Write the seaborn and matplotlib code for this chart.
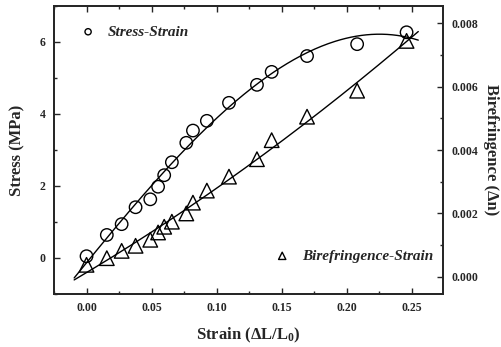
import numpy as np
import pandas as pd
import matplotlib
matplotlib.use('Agg')
import matplotlib.pyplot as plt
from matplotlib.ticker import MultipleLocator
import seaborn as sns

# strain values shared by both series
strain = [0.000, 0.0156, 0.027, 0.0377, 0.049, 0.055, 0.0597, 0.0656, 0.0767,
          0.0818, 0.0925, 0.1095, 0.131, 0.1423, 0.1695, 0.208, 0.246]
stress = [0.05, 0.64, 0.94, 1.41, 1.63, 1.98, 2.30, 2.66, 3.20,
          3.54, 3.81, 4.31, 4.81, 5.17, 5.61, 5.94, 6.27]
biref = [0.00038, 0.00059, 0.00082, 0.00098, 0.00117, 0.00140, 0.00158, 0.00174, 0.00200,
         0.00234, 0.00272, 0.00316, 0.00371, 0.00431, 0.00505, 0.00587, 0.00744]

fit_range = (-0.0095, 0.255)

df = pd.DataFrame({'strain': strain, 'stress': stress, 'biref': biref})

sns.set_style('ticks')
plt.rcParams['font.family'] = ['Liberation Serif', 'DejaVu Serif']
plt.rcParams['font.weight'] = 'bold'
plt.rcParams['mathtext.fontset'] = 'custom'
plt.rcParams['mathtext.rm'] = 'Liberation Serif:bold'
plt.rcParams['mathtext.it'] = 'Liberation Serif:bold:italic'
plt.rcParams['mathtext.bf'] = 'Liberation Serif:bold'
plt.rcParams['axes.linewidth'] = 1.3

fig = plt.figure(figsize=(5.01, 3.47), dpi=100)
ax = fig.add_axes([54/501, 53/347, 389/501, 288/347])
ax2 = ax.twinx()

# fitted curves (polynomial fits of the points)
xx = np.linspace(fit_range[0], fit_range[1], 200)
p1 = np.polyfit(df['strain'], df['stress'], 3)
p2 = np.polyfit(df['strain'], df['biref'], 2)
ax.plot(xx, np.polyval(p1, xx), color='black', lw=1.0)
ax2.plot(xx, np.polyval(p2, xx), color='black', lw=1.0)

sns.scatterplot(data=df, x='strain', y='stress', ax=ax, marker='o', s=80,
                facecolor='none', edgecolor='black', linewidth=1.0,
                label='Stress-Strain', zorder=3)
sns.scatterplot(data=df, x='strain', y='biref', ax=ax2, marker='^', s=110,
                facecolor='none', edgecolor='black', linewidth=1.0,
                label='Birefringence-Strain', zorder=3)

ax.set_xlim(-0.025, 0.274)
ax.set_ylim(-1, 7)
ax2.set_ylim(-0.00054, 0.00854)

ax.xaxis.set_major_locator(MultipleLocator(0.05))
ax.xaxis.set_minor_locator(MultipleLocator(0.025))
ax.yaxis.set_major_locator(MultipleLocator(2))
ax.yaxis.set_minor_locator(MultipleLocator(1))
ax2.yaxis.set_major_locator(MultipleLocator(0.002))
ax2.yaxis.set_minor_locator(MultipleLocator(0.001))
ax.xaxis.set_major_formatter(plt.FuncFormatter(lambda v, p: f'{v:.2f}'))
ax.yaxis.set_major_formatter(plt.FuncFormatter(lambda v, p: f'{v:.0f}'))
ax2.yaxis.set_major_formatter(plt.FuncFormatter(lambda v, p: f'{v:.3f}'))

ax.tick_params(axis='both', which='major', direction='in', length=4, width=1,
               labelsize=8.5, top=True, right=False, pad=6)
ax.tick_params(axis='both', which='minor', direction='in', length=2, width=1,
               top=True, right=False)
ax2.tick_params(axis='y', which='major', direction='in', length=4, width=1,
                labelsize=8.5, pad=6)
ax2.tick_params(axis='y', which='minor', direction='in', length=2, width=1)

ax.set_xlabel(r'Strain $(\mathrm{\Delta L/L}_{0})$', fontsize=12, fontweight='bold', labelpad=8)
ax.set_ylabel('Stress (MPa)', fontsize=12, fontweight='bold', labelpad=10)
ax2.set_ylabel('Birefringence (Δn)', fontsize=12, fontweight='bold',
               rotation=270, labelpad=15)

leg_font = {'family': 'Liberation Serif', 'weight': 'bold', 'style': 'italic', 'size': 11}
ax.legend(loc='center left', bbox_to_anchor=(0.068, 0.91), frameon=False,
          prop=leg_font, markerscale=0.5, handlelength=1.0, handletextpad=0.8,
          borderpad=0, borderaxespad=0)
ax2.legend(loc='center left', bbox_to_anchor=(0.567, 0.132), frameon=False,
           prop=leg_font, markerscale=0.5, handlelength=1.0, handletextpad=0.8,
           borderpad=0, borderaxespad=0)

fig.savefig('out.png', dpi=100)
